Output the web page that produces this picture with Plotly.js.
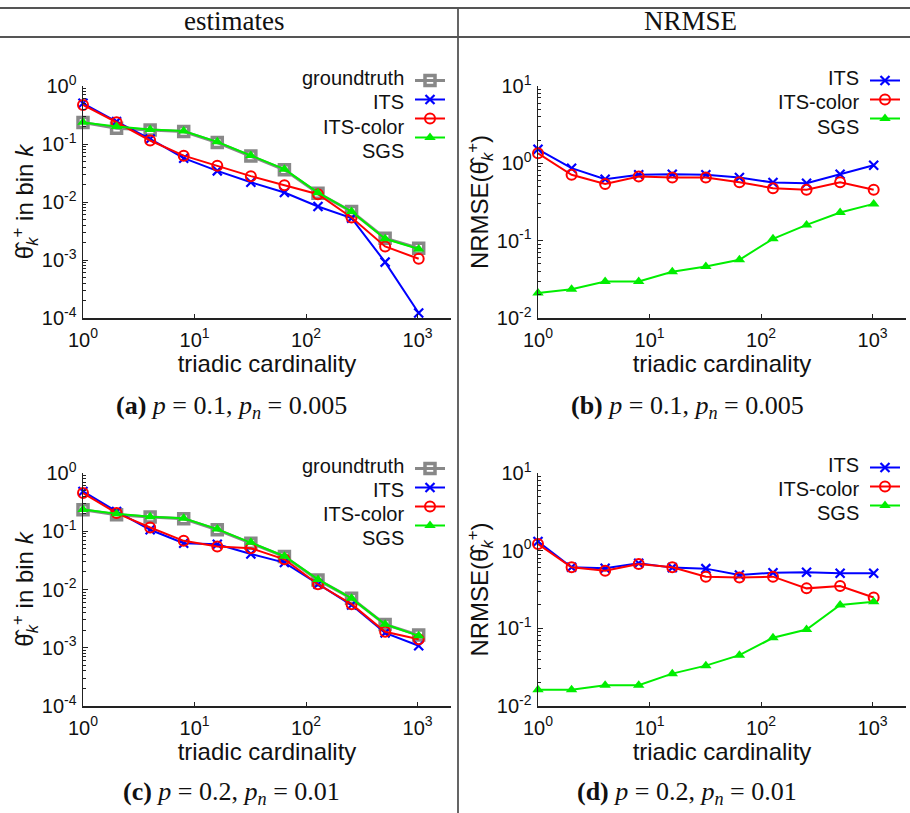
<!DOCTYPE html>
<html>
<head>
<meta charset="utf-8">
<script src="https://cdn.plot.ly/plotly-3.0.1.min.js"></script>
<style>html,body{margin:0;padding:0;background:#fff;}#chart{width:910px;height:813px;}</style>
</head>
<body>
<div id="chart"></div>
<script>
// ---- data ----
const cardinality = [1, 2, 4, 8, 16, 32, 64, 128, 256, 512, 1024];

// (a) estimates, p=0.1, pn=0.005
const aGroundtruth = [0.234, 0.187, 0.175, 0.164, 0.106, 0.0623, 0.0358, 0.0142, 0.00686, 0.00238, 0.0016];
const aITS        = [0.503, 0.243, 0.122, 0.0569, 0.0344, 0.0219, 0.0146, 0.00837, 0.00527, 0.00092, 0.000122];
const aITSColor   = [0.471, 0.237, 0.115, 0.063, 0.042, 0.0279, 0.0195, 0.0136, 0.0054, 0.00171, 0.00105];
const aSGS        = [0.236, 0.200, 0.178, 0.168, 0.109, 0.0635, 0.0368, 0.0145, 0.00686, 0.00232, 0.00155];

// (b) NRMSE, p=0.1, pn=0.005
const bITS      = [1.52, 0.865, 0.624, 0.71, 0.723, 0.71, 0.655, 0.565, 0.553, 0.723, 0.945];
const bITSColor = [1.35, 0.71, 0.542, 0.675, 0.655, 0.655, 0.57, 0.477, 0.454, 0.57, 0.454];
const bSGS      = [0.021, 0.0236, 0.0297, 0.0297, 0.0396, 0.0464, 0.0566, 0.1057, 0.160, 0.231, 0.299];

// (c) estimates, p=0.2, pn=0.01
const cGroundtruth = [0.234, 0.192, 0.175, 0.164, 0.106, 0.0623, 0.0367, 0.0146, 0.00705, 0.00251, 0.00165];
const cITS        = [0.483, 0.219, 0.106, 0.0623, 0.060, 0.0408, 0.029, 0.0123, 0.0054, 0.0018, 0.00108];
const cITSColor   = [0.453, 0.205, 0.116, 0.0684, 0.0546, 0.0512, 0.033, 0.0123, 0.0056, 0.00188, 0.0014];
const cSGS        = [0.237, 0.200, 0.178, 0.167, 0.109, 0.0645, 0.0373, 0.0149, 0.00705, 0.00253, 0.0016];

// (d) NRMSE, p=0.2, pn=0.01
const dITS      = [1.31, 0.611, 0.593, 0.688, 0.605, 0.587, 0.486, 0.521, 0.526, 0.511, 0.511];
const dITSColor = [1.22, 0.611, 0.553, 0.675, 0.611, 0.463, 0.45, 0.463, 0.327, 0.351, 0.25];
const dSGS      = [0.0162, 0.0162, 0.0185, 0.0185, 0.0261, 0.0331, 0.0451, 0.0755, 0.0967, 0.2, 0.22];

// tick labels
const xTickVals = [1, 10, 100, 1000];
const xTickText = ['10<sup>0</sup>', '10<sup>1</sup>', '10<sup>2</sup>', '10<sup>3</sup>'];
const estTickVals = [1e-4, 1e-3, 1e-2, 1e-1, 1];
const estTickText = ['10<sup>-4</sup>', '10<sup>-3</sup>', '10<sup>-2</sup>', '10<sup>-1</sup>', '10<sup>0</sup>'];
const nrmseTickVals = [1e-2, 1e-1, 1, 10];
const nrmseTickText = ['10<sup>-2</sup>', '10<sup>-1</sup>', '10<sup>0</sup>', '10<sup>1</sup>'];

const seriesNames = ['groundtruth', 'ITS', 'ITS-color', 'SGS'];
const headers = ['estimates', 'NRMSE'];
const captions = [
  '<b>(a)</b> <i>p</i> = 0.1, <i>p</i><sub><i>n</i></sub> = 0.005',
  '<b>(b)</b> <i>p</i> = 0.1, <i>p</i><sub><i>n</i></sub> = 0.005',
  '<b>(c)</b> <i>p</i> = 0.2, <i>p</i><sub><i>n</i></sub> = 0.01',
  '<b>(d)</b> <i>p</i> = 0.2, <i>p</i><sub><i>n</i></sub> = 0.01'
];

// ---- styles ----
const W = 910, H = 813;
const px = v => v / W;
const py = v => 1 - v / H;
const SANS = 'Liberation Sans, Arial, sans-serif';
const SERIF = 'Liberation Serif, Times New Roman, serif';

const styles = {
  'groundtruth': {line: {color: '#888888', width: 3}, marker: {symbol: 'square-open', size: 10, color: '#888888', line: {width: 3.5, color: '#888888'}}},
  'ITS':         {line: {color: '#0000ff', width: 2}, marker: {symbol: 'x-thin-open', size: 9, color: '#0000ff', line: {width: 2.2, color: '#0000ff'}}},
  'ITS-color':   {line: {color: '#ff0000', width: 2}, marker: {symbol: 'circle-open', size: 10, color: '#ff0000', line: {width: 2, color: '#ff0000'}}},
  'SGS':         {line: {color: '#00ee00', width: 2}, marker: {symbol: 'triangle-up', size: 10, color: '#00ee00', line: {width: 0}}}
};

function tr(name, y, xa, ya, leg) {
  const s = styles[name];
  return {
    x: cardinality, y: y, type: 'scatter', mode: 'lines+markers',
    name: '', legendgroup: name, meta: name,
    xaxis: xa, yaxis: ya, legend: leg, cliponaxis: false,
    line: s.line, marker: s.marker,
    hovertemplate: name + ': %{y}<extra></extra>'
  };
}

const data = [
  tr('groundtruth', aGroundtruth, 'x', 'y', 'legend'),
  tr('ITS', aITS, 'x', 'y', 'legend'),
  tr('ITS-color', aITSColor, 'x', 'y', 'legend'),
  tr('SGS', aSGS, 'x', 'y', 'legend'),
  tr('ITS', bITS, 'x2', 'y2', 'legend2'),
  tr('ITS-color', bITSColor, 'x2', 'y2', 'legend2'),
  tr('SGS', bSGS, 'x2', 'y2', 'legend2'),
  tr('groundtruth', cGroundtruth, 'x3', 'y3', 'legend3'),
  tr('ITS', cITS, 'x3', 'y3', 'legend3'),
  tr('ITS-color', cITSColor, 'x3', 'y3', 'legend3'),
  tr('SGS', cSGS, 'x3', 'y3', 'legend3'),
  tr('ITS', dITS, 'x4', 'y4', 'legend4'),
  tr('ITS-color', dITSColor, 'x4', 'y4', 'legend4'),
  tr('SGS', dSGS, 'x4', 'y4', 'legend4')
];

function minorTicks(lo, hi) {
  const out = [];
  for (let e = lo; e < hi; e++) for (let m = 2; m <= 9; m++) out.push(m * Math.pow(10, e));
  return out;
}

function xaxis(domain, anchor) {
  return {
    type: 'log', domain: domain, anchor: anchor, range: [0, 3.3],
    tickmode: 'array', tickvals: xTickVals, ticktext: xTickText,
    showline: true, linecolor: '#222', linewidth: 1.5, mirror: false,
    ticks: 'inside', ticklen: 4, tickwidth: 1, tickcolor: '#222',
    showgrid: false, zeroline: false,
    tickfont: {family: SANS, size: 20, color: '#111'},
    ticklabelstandoff: 3,
    title: {text: 'triadic cardinality', font: {family: SANS, size: 24, color: '#111'}, standoff: 5}
  };
}
function yaxis(domain, anchor, range, vals, text, title) {
  return {
    type: 'log', domain: domain, anchor: anchor, range: range,
    tickmode: 'array', tickvals: vals, ticktext: text,
    showline: true, linecolor: '#222', linewidth: 1.5, mirror: false,
    ticks: 'inside', ticklen: 5, tickwidth: 1, tickcolor: '#222',
    minor: {tickmode: 'array', tickvals: minorTicks(range[0], range[1]), ticks: 'inside', ticklen: 2.5, tickwidth: 1, tickcolor: '#222', showgrid: false},
    showgrid: false, zeroline: false,
    tickfont: {family: SANS, size: 20, color: '#111'},
    ticklabelstandoff: 1,
    title: {text: title, font: {family: SANS, size: 24, color: '#111'}, standoff: 0}
  };
}

const colL = [px(83), px(451)], colR = [px(538), px(906)];
const rowT = [py(318), py(86)], rowB = [py(706), py(473)];
const estTitle = 'θ\u0302<sub><i>k</i></sub><sup>+</sup> in bin <i>k</i>';
const nrmseTitle = 'NRMSE(θ\u0302<sub><i>k</i></sub><sup>+</sup>)';

function legend(xPix, yPix) {
  return {x: px(xPix), y: py(yPix), xanchor: 'left', yanchor: 'top', bgcolor: 'rgba(0,0,0,0)',
          borderwidth: 0, font: {family: SANS, size: 12}, tracegroupgap: 0, itemwidth: 30};
}

const annotations = [];
function legendLabels(names, xRight, yRows) {
  names.forEach((n, i) => annotations.push({
    text: n, xref: 'paper', yref: 'paper', x: px(xRight), y: py(yRows[i]),
    xanchor: 'right', yanchor: 'middle', showarrow: false,
    font: {family: SANS, size: 20, color: '#111'}
  }));
}
legendLabels(seriesNames, 406, [78, 102.5, 127, 151]);
legendLabels(seriesNames.slice(1), 861, [78, 102.5, 127]);
legendLabels(seriesNames, 406, [466, 490, 514, 538]);
legendLabels(seriesNames.slice(1), 861, [465, 489, 513]);

headers.forEach((h, i) => annotations.push({
  text: h, xref: 'paper', yref: 'paper', x: px(i === 0 ? 234 : 690), y: py(21),
  xanchor: 'center', yanchor: 'middle', showarrow: false,
  font: {family: SERIF, size: 27, color: '#111'}
}));
const capPos = [[231, 407], [687, 407], [231, 793], [687, 793]];
captions.forEach((c, i) => annotations.push({
  text: c, xref: 'paper', yref: 'paper', x: px(capPos[i][0]), y: py(capPos[i][1]),
  xanchor: 'center', yanchor: 'middle', showarrow: false,
  font: {family: SERIF, size: 26, color: '#111'}
}));

const lineStyle = {color: '#555', width: 1.8};
const shapes = [
  {type: 'line', xref: 'paper', yref: 'paper', x0: 0, x1: 1, y0: py(8), y1: py(8), line: lineStyle},
  {type: 'line', xref: 'paper', yref: 'paper', x0: 0, x1: 1, y0: py(37), y1: py(37), line: lineStyle},
  {type: 'line', xref: 'paper', yref: 'paper', x0: px(458), x1: px(458), y0: py(8), y1: 0, line: lineStyle}
];

const layout = {
  width: W, height: H,
  margin: {l: 0, r: 0, t: 0, b: 0},
  paper_bgcolor: '#fff', plot_bgcolor: 'rgba(0,0,0,0)',
  showlegend: true,
  xaxis: xaxis(colL, 'y'),
  yaxis: yaxis(rowT, 'x', [-4, 0], estTickVals, estTickText, estTitle),
  xaxis2: xaxis(colR, 'y2'),
  yaxis2: yaxis(rowT, 'x2', [-2, 1], nrmseTickVals, nrmseTickText, nrmseTitle),
  xaxis3: xaxis(colL, 'y3'),
  yaxis3: yaxis(rowB, 'x3', [-4, 0], estTickVals, estTickText, estTitle),
  xaxis4: xaxis(colR, 'y4'),
  yaxis4: yaxis(rowB, 'x4', [-2, 1], nrmseTickVals, nrmseTickText, nrmseTitle),
  legend: legend(410, 66),
  legend2: legend(865, 66),
  legend3: legend(410, 454),
  legend4: legend(865, 453),
  annotations: annotations,
  shapes: shapes
};

Plotly.newPlot('chart', data, layout, {staticPlot: true, displayModeBar: false});
</script>
</body>
</html>
